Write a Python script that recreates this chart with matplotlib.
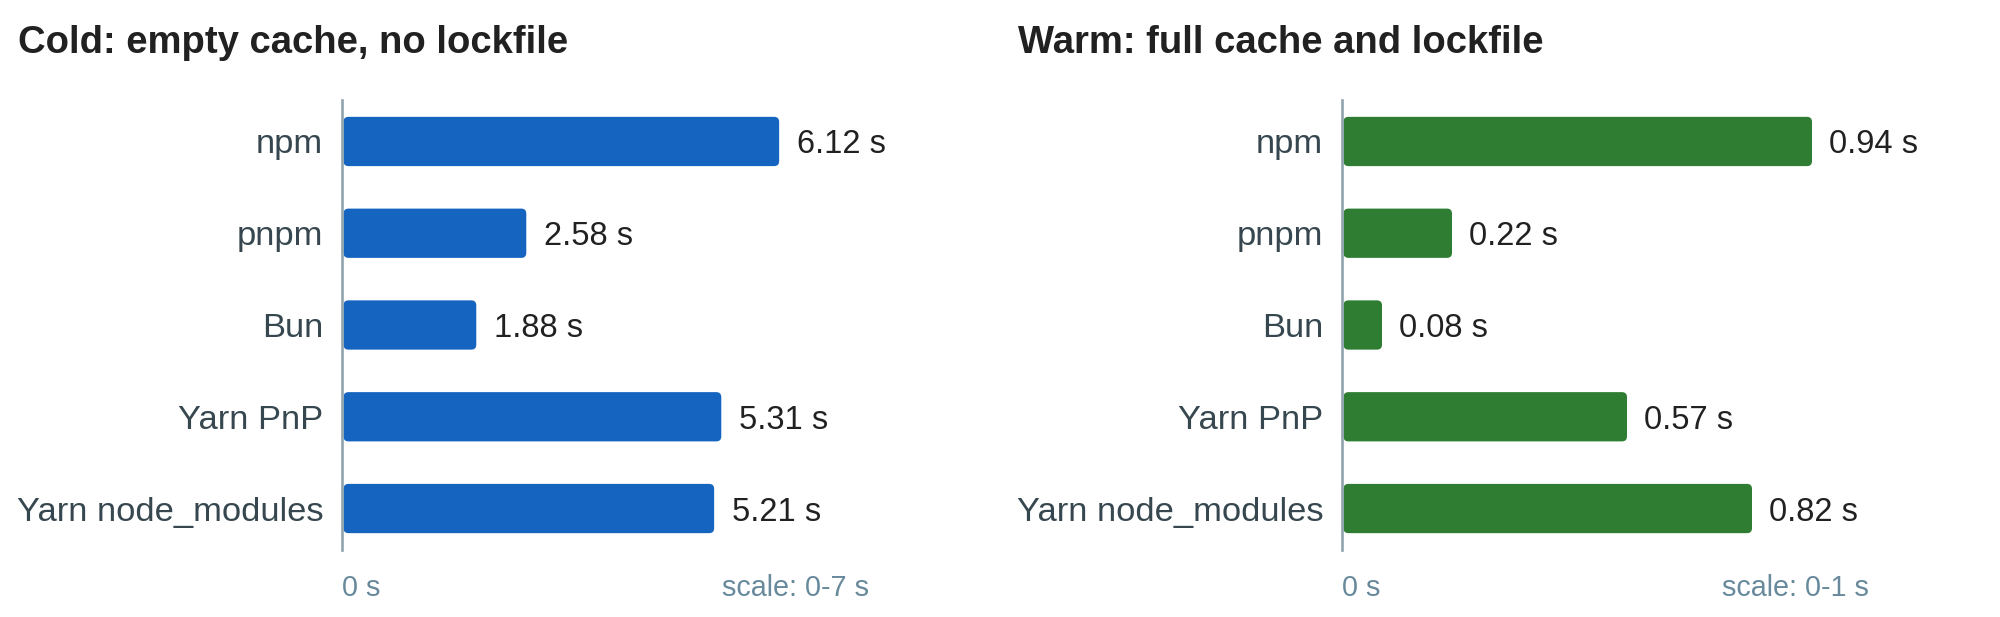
import matplotlib
matplotlib.use('Agg')
import matplotlib.pyplot as plt
from matplotlib.patches import FancyBboxPatch
from matplotlib.transforms import blended_transform_factory

tools = ['npm', 'pnpm', 'Bun', 'Yarn PnP', 'Yarn node_modules']
cold_times = [6.12, 2.58, 1.88, 5.31, 5.21]
warm_times = [0.94, 0.22, 0.08, 0.57, 0.82]
cold_title = 'Cold: empty cache, no lockfile'
warm_title = 'Warm: full cache and lockfile'
cold_max = 7
warm_max = 1

plt.rcParams['font.family'] = ['Liberation Sans', 'DejaVu Sans']

W, H = 2000, 617
fig = plt.figure(figsize=(W / 100, H / 100), dpi=100)


def panel(x0, title, values, vmax, color):
    ax = fig.add_axes([(x0 + 342) / W, (H - 550) / H, 500 / W, 450 / H])
    ax.set_xlim(0, vmax)
    ax.set_ylim(4.452, -0.452)
    # pixel sizes in data units, for round corners
    xpp = vmax / 500
    ypp = 4.904 / 450
    r = 5 * xpp
    bh = 0.537
    for i, v in enumerate(values):
        ax.add_patch(FancyBboxPatch((xpp * 1.5, i - bh / 2), v - xpp * 1.5, bh,
                                    boxstyle=f'round,pad=0,rounding_size={r}',
                                    mutation_aspect=ypp / xpp,
                                    facecolor=color, edgecolor='none'))
        ax.annotate(f'{v:.2f} s', (v, i), xytext=(12.5, 0), textcoords='offset points',
                    va='center_baseline', ha='left', fontsize=23.5, color='#212121',
                    annotation_clip=False)
    for s in ['top', 'right', 'bottom']:
        ax.spines[s].set_visible(False)
    ax.spines['left'].set_color('#90A4AE')
    ax.spines['left'].set_linewidth(1.9)
    ax.set_xticks([])
    ax.set_yticks(range(len(tools)))
    ax.set_yticklabels(tools, fontsize=24.8, color='#37474F', va='center_baseline')
    ax.tick_params(axis='y', length=0, pad=13.5)
    tr = blended_transform_factory(ax.transAxes, fig.transFigure)
    ax.text(0, (H - 596) / H, '0 s', transform=tr, ha='left', va='baseline',
            fontsize=20.7, color='#688A9C')
    ax.text(527 / 500, (H - 596) / H, f'scale: 0-{vmax} s', transform=tr,
            ha='right', va='baseline', fontsize=20.7, color='#688A9C')
    fig.text((x0 + 18) / W, (H - 53) / H, title, ha='left', va='baseline',
             fontsize=27.5, fontweight='bold', color='#212121')


panel(0, cold_title, cold_times, cold_max, '#1565C0')
panel(1000, warm_title, warm_times, warm_max, '#2E7D32')

fig.savefig('out.png', dpi=100, facecolor='white')
